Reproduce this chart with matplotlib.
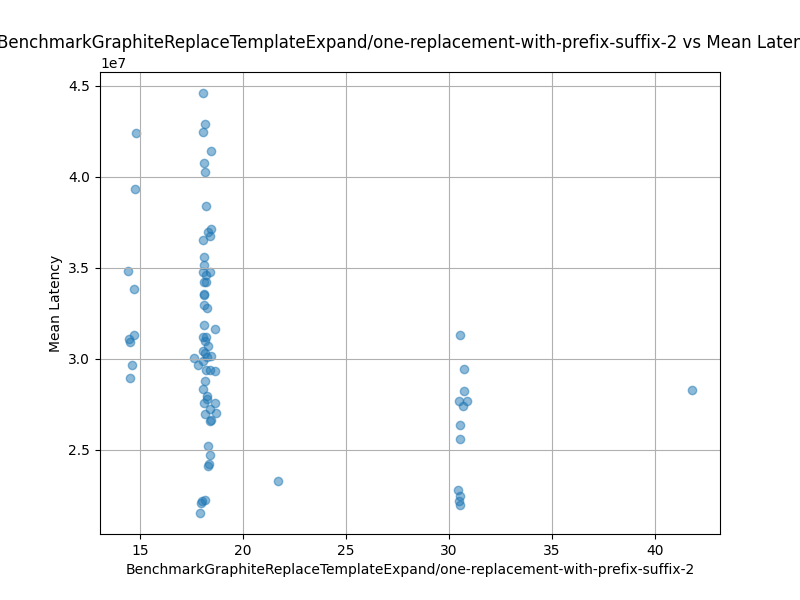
import matplotlib
matplotlib.use("Agg")
import matplotlib.pyplot as plt

bench_name = "BenchmarkGraphiteReplaceTemplateExpand/one-replacement-with-prefix-suffix-2"

# benchmark parameter value (x) and mean latency (y, in units of 1e7)
left_x = [14.8, 14.76, 14.42, 14.71, 14.71, 14.47, 14.5, 14.6, 14.5]
left_y = [4.242, 3.934, 3.483, 3.385, 3.132, 3.11, 3.09, 2.966, 2.895]

main_x = [18.07, 18.17, 18.07, 18.46, 18.12, 18.16, 18.2, 18.46, 18.3, 18.4,
          18.07, 18.12, 18.12, 18.04, 18.4, 18.2, 18.1, 18.2, 18.1, 18.12,
          18.1, 18.27, 18.12, 18.66, 18.07, 18.2, 18.16, 18.32, 18.07, 18.17,
          18.46, 18.27, 17.64, 18.07, 17.82, 18.2, 18.4, 18.62, 18.17, 18.07,
          18.27, 18.23, 18.1, 18.66, 18.41, 18.14, 18.69, 18.43, 18.4, 18.3,
          18.41, 18.33, 18.3, 18.17, 18.02, 17.95, 17.91]
main_y = [4.46, 4.29, 4.246, 4.143, 4.075, 4.026, 3.84, 3.714, 3.694, 3.676,
          3.654, 3.56, 3.516, 3.474, 3.478, 3.46, 3.42, 3.42, 3.357, 3.35,
          3.297, 3.276, 3.187, 3.163, 3.117, 3.117, 3.095, 3.068, 3.044, 3.031,
          3.016, 3.012, 3.004, 2.985, 2.965, 2.94, 2.936, 2.934, 2.875, 2.835,
          2.797, 2.78, 2.756, 2.756, 2.725, 2.698, 2.70, 2.665, 2.66, 2.518,
          2.471, 2.423, 2.409, 2.225, 2.216, 2.207, 2.152]

right_x = [30.53, 30.73, 30.73, 30.49, 30.87, 30.68, 30.53, 30.53,
           30.44, 30.55, 30.5, 30.53]
right_y = [3.132, 2.943, 2.82, 2.769, 2.769, 2.738, 2.636, 2.56,
           2.276, 2.243, 2.22, 2.198]

other_x = [21.7, 41.8]
other_y = [2.33, 2.83]

xs = left_x + main_x + right_x + other_x
ys = [v * 1e7 for v in left_y + main_y + right_y + other_y]

fig, ax = plt.subplots(figsize=(8, 6), dpi=100)
ax.scatter(xs, ys, alpha=0.5)
ax.set_title(f"{bench_name} vs Mean Latency")
ax.set_xlabel(bench_name)
ax.set_ylabel("Mean Latency")
ax.grid(True)

fig.savefig("out.png")
